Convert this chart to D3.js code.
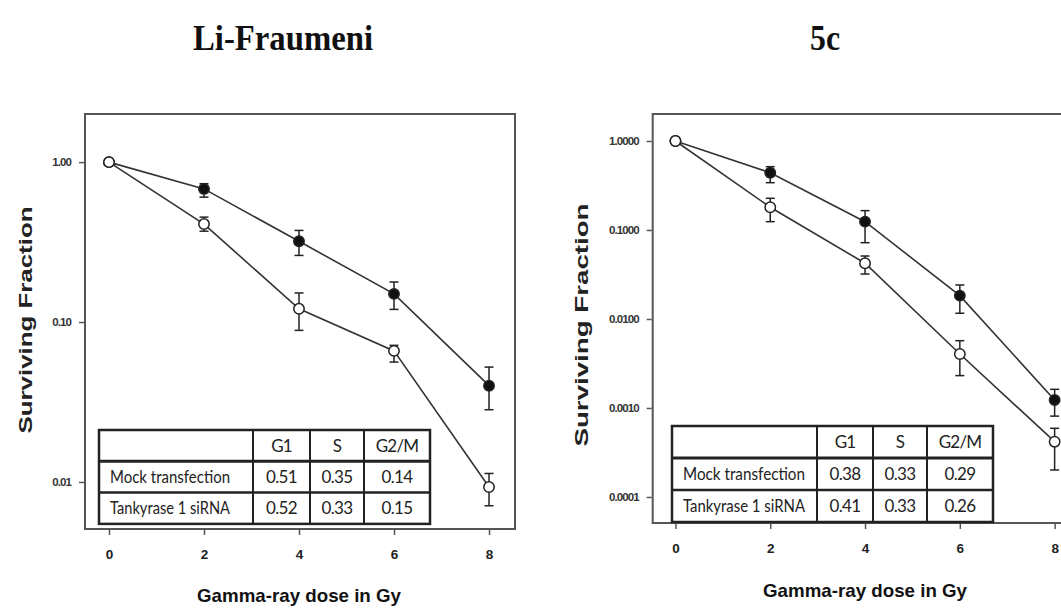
<!DOCTYPE html>
<html>
<head>
<meta charset="utf-8">
<script src="https://cdn.jsdelivr.net/npm/d3@7"></script>
<style>
  html, body { margin: 0; padding: 0; background: #fff; }
  svg { display: block; }
</style>
</head>
<body>
<svg id="chart" width="1061" height="609"></svg>
<script>
// ---- data -------------------------------------------------------------
const doses = [0, 2, 4, 6, 8];
const xTickLabels = ["0", "2", "4", "6", "8"];

// Li-Fraumeni cells
const lfMockMean = [1.0, 0.68, 0.32, 0.15, 0.040];
const lfMockLow  = [1.0, 0.604, 0.261, 0.12, 0.0283];
const lfMockHigh = [1.0, 0.733, 0.374, 0.178, 0.0523];
const lfTankMean = [1.0, 0.41, 0.121, 0.066, 0.0093];
const lfTankLow  = [1.0, 0.370, 0.0887, 0.0562, 0.0071];
const lfTankHigh = [1.0, 0.453, 0.152, 0.0715, 0.0113];
const lfYTicks = [1, 0.1, 0.01];
const lfYTickLabels = ["1.00", "0.10", "0.01"];

// 5c cells
const c5MockMean = [1.0, 0.440, 0.124, 0.0183, 0.00123];
const c5MockLow  = [1.0, 0.340, 0.072, 0.0116, 0.00081];
const c5MockHigh = [1.0, 0.514, 0.165, 0.0241, 0.00162];
const c5TankMean = [1.0, 0.180, 0.0423, 0.00404, 0.000418];
const c5TankLow  = [1.0, 0.124, 0.0320, 0.00231, 0.000201];
const c5TankHigh = [1.0, 0.227, 0.0510, 0.0057, 0.000591];
const c5YTicks = [1, 0.1, 0.01, 0.001, 0.0001];
const c5YTickLabels = ["1.0000", "0.1000", "0.0100", "0.0010", "0.0001"];

// cell-cycle distribution tables
const phaseCols = ["G1", "S", "G2/M"];
const treatments = ["Mock transfection", "Tankyrase 1 siRNA"];
const lfPhase = [["0.51", "0.35", "0.14"], ["0.52", "0.33", "0.15"]];
const c5Phase = [["0.38", "0.33", "0.29"], ["0.41", "0.33", "0.26"]];

const panelTitles = ["Li-Fraumeni", "5c"];
const yTitle = "Surviving Fraction";
const xTitle = "Gamma-ray dose in Gy";

// ---- drawing ----------------------------------------------------------
const svg = d3.select("#chart");

function series(mean, low, high) {
  return doses.map((d, i) => ({ x: d, y: mean[i], lo: low[i], hi: high[i] }));
}

function drawPanel(cfg) {
  const g = svg.append("g");
  const x = d3.scaleLinear().domain(cfg.xDomain).range([cfg.left, cfg.right]);
  const y = d3.scaleLog().domain(cfg.yDomain).range([cfg.bottom, cfg.top]);

  // title
  g.append("text")
    .attr("x", cfg.titleX).attr("y", 50)
    .attr("text-anchor", "middle")
    .attr("font-family", "'Liberation Serif', 'Times New Roman', serif")
    .attr("font-weight", "bold")
    .attr("font-size", 36)
    .attr("textLength", cfg.titleLen)
    .attr("lengthAdjust", "spacingAndGlyphs")
    .attr("fill", "#111")
    .text(cfg.title);

  // frame
  g.append("rect")
    .attr("x", cfg.left).attr("y", cfg.top)
    .attr("width", cfg.right - cfg.left).attr("height", cfg.bottom - cfg.top)
    .attr("fill", "none").attr("stroke", "#555").attr("stroke-width", 2);

  // axes
  const xAxis = g.append("g")
    .attr("transform", `translate(0,${cfg.bottom + 1})`)
    .call(d3.axisBottom(x).tickValues(doses)
      .tickFormat((d, i) => xTickLabels[i]).tickSize(5).tickSizeOuter(0).tickPadding(14));
  xAxis.select(".domain").remove();
  xAxis.selectAll("line").attr("stroke", "#555").attr("stroke-width", 1.5);
  xAxis.selectAll("text")
    .attr("font-family", "'Liberation Sans', Arial, sans-serif")
    .attr("font-weight", "bold").attr("font-size", 13.5).attr("fill", "#222");

  const yAxis = g.append("g")
    .attr("transform", `translate(${cfg.left - 1},0)`)
    .call(d3.axisLeft(y).tickValues(cfg.yTicks)
      .tickFormat((d, i) => cfg.yTickLabels[i]).tickSize(5).tickSizeOuter(0).tickPadding(8));
  yAxis.select(".domain").remove();
  yAxis.selectAll("line").attr("stroke", "#555").attr("stroke-width", 1.5);
  yAxis.selectAll("text")
    .attr("font-family", "'Liberation Sans', Arial, sans-serif")
    .attr("font-weight", "bold")
    .attr("font-size", 11.5).attr("fill", "#333")
    .attr("letter-spacing", -0.9);

  // axis titles
  g.append("text")
    .attr("transform", `translate(${cfg.yTitleX},${cfg.yTitleY}) rotate(-90)`)
    .attr("text-anchor", "middle").attr("dy", "0.35em")
    .attr("font-family", "'Liberation Sans', Arial, sans-serif")
    .attr("font-weight", "bold").attr("font-size", 19)
    .attr("textLength", cfg.yTitleLen).attr("lengthAdjust", "spacingAndGlyphs")
    .attr("fill", "#222")
    .text(yTitle);

  g.append("text")
    .attr("x", x(4)).attr("y", cfg.xTitleY)
    .attr("text-anchor", "middle")
    .attr("font-family", "'Liberation Sans', Arial, sans-serif")
    .attr("font-weight", "bold").attr("font-size", 19)
    .attr("textLength", 204).attr("lengthAdjust", "spacingAndGlyphs")
    .attr("fill", "#111")
    .text(xTitle);

  // table of phase fractions
  const t = cfg.table;
  const colX = [t.x];
  t.widths.forEach(w => colX.push(colX[colX.length - 1] + w));
  const rowY = [t.y, t.y + t.rowH, t.y + 2 * t.rowH, t.y + 3 * t.rowH];
  const tg = g.append("g");
  tg.append("rect")
    .attr("x", t.x).attr("y", t.y)
    .attr("width", colX[4] - t.x).attr("height", rowY[3] - t.y)
    .attr("fill", "#fff").attr("stroke", "#222").attr("stroke-width", 2.5);
  [1, 2].forEach(r => tg.append("line")
    .attr("x1", t.x).attr("x2", colX[4]).attr("y1", rowY[r]).attr("y2", rowY[r])
    .attr("stroke", "#222").attr("stroke-width", r === 1 ? 3 : 2.5));
  [1, 2, 3].forEach(c => tg.append("line")
    .attr("x1", colX[c]).attr("x2", colX[c]).attr("y1", t.y).attr("y2", rowY[3])
    .attr("stroke", "#222").attr("stroke-width", 2));
  const tFont = "Lato, 'Open Sans', sans-serif";
  phaseCols.forEach((c, j) => tg.append("text")
    .attr("x", (colX[j + 1] + colX[j + 2]) / 2).attr("y", rowY[0] + t.rowH / 2)
    .attr("dy", "0.36em").attr("text-anchor", "middle")
    .attr("font-family", tFont).attr("font-size", 17).attr("fill", "#222")
    .attr("letter-spacing", -0.8)
    .text(c));
  treatments.forEach((lab, i) => {
    tg.append("text")
      .attr("x", t.x + t.pad).attr("y", rowY[i + 1] + t.rowH / 2)
      .attr("dy", "0.36em")
      .attr("font-family", tFont).attr("font-size", 17).attr("fill", "#222")
      .attr("textLength", t.labelLen).attr("lengthAdjust", "spacingAndGlyphs")
      .text(lab);
    cfg.phase[i].forEach((v, j) => tg.append("text")
      .attr("x", (colX[j + 1] + colX[j + 2]) / 2).attr("y", rowY[i + 1] + t.rowH / 2)
      .attr("dy", "0.36em").attr("text-anchor", "middle")
      .attr("font-family", tFont).attr("font-size", 17).attr("fill", "#222")
      .attr("letter-spacing", -0.6)
      .text(v));
  });

  // survival curves: filled = mock, open = tankyrase 1 siRNA (drawn on top)
  const line = d3.line().x(d => x(d.x)).y(d => y(d.y));
  [cfg.mock, cfg.tank].forEach((s, k) => {
    const sg = g.append("g");
    sg.append("path").datum(s)
      .attr("d", line).attr("fill", "none")
      .attr("stroke", "#333").attr("stroke-width", 1.6);
    const eb = sg.selectAll(".eb").data(s.filter(d => d.hi > d.lo)).enter().append("g");
    eb.append("line")
      .attr("x1", d => x(d.x)).attr("x2", d => x(d.x))
      .attr("y1", d => y(d.hi)).attr("y2", d => y(d.lo))
      .attr("stroke", "#222").attr("stroke-width", 1.5);
    ["hi", "lo"].forEach(key => eb.append("line")
      .attr("x1", d => x(d.x) - 4.5).attr("x2", d => x(d.x) + 4.5)
      .attr("y1", d => y(d[key])).attr("y2", d => y(d[key]))
      .attr("stroke", "#222").attr("stroke-width", 1.5));
    sg.selectAll("circle").data(s).enter().append("circle")
      .attr("cx", d => x(d.x)).attr("cy", d => y(d.y)).attr("r", 5.2)
      .attr("fill", k === 0 ? "#111" : "#fff")
      .attr("stroke", "#222").attr("stroke-width", 1.5);
  });
}

drawPanel({
  title: panelTitles[0], titleX: 283, titleLen: 180,
  left: 85, right: 515, top: 114, bottom: 529,
  xDomain: [-0.505, 8.547], yDomain: [0.00508, 2.0],
  yTicks: lfYTicks, yTickLabels: lfYTickLabels,
  yTitleX: 25, yTitleY: 320, yTitleLen: 227, xTitleY: 602,
  mock: series(lfMockMean, lfMockLow, lfMockHigh),
  tank: series(lfTankMean, lfTankLow, lfTankHigh),
  phase: lfPhase,
  table: { x: 99, y: 430, rowH: 31.3, widths: [154, 57, 54, 66], pad: 11, labelLen: 120 }
});

drawPanel({
  title: panelTitles[1], titleX: 825, titleLen: 30,
  left: 652.7, right: 1080.7, top: 114, bottom: 523,
  xDomain: [-0.48, 8.55], yDomain: [0.0000510, 2.01],
  yTicks: c5YTicks, yTickLabels: c5YTickLabels,
  yTitleX: 581, yTitleY: 325, yTitleLen: 243, xTitleY: 597,
  mock: series(c5MockMean, c5MockLow, c5MockHigh),
  tank: series(c5TankMean, c5TankLow, c5TankHigh),
  phase: c5Phase,
  table: { x: 672, y: 426, rowH: 32, widths: [145, 56, 54, 66], pad: 11, labelLen: 122 }
});
</script>
</body>
</html>
